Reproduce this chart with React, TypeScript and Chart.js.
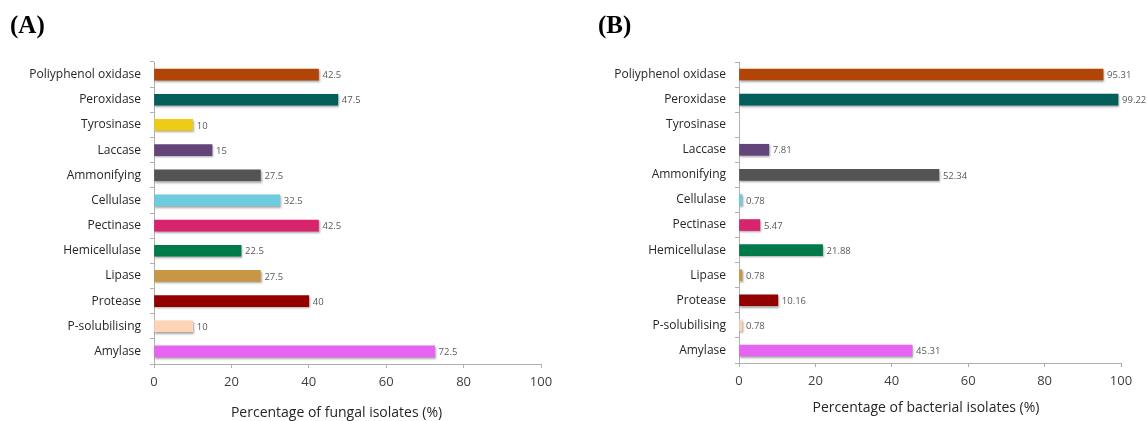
import React, { useEffect, useRef } from "react";
import { Chart, registerables } from "chart.js";

Chart.register(...registerables);

const categories = [
  "Poliyphenol oxidase",
  "Peroxidase",
  "Tyrosinase",
  "Laccase",
  "Ammonifying",
  "Cellulase",
  "Pectinase",
  "Hemicellulase",
  "Lipase",
  "Protease",
  "P-solubilising",
  "Amylase",
];

const fungalValues: (number | null)[] = [42.5, 47.5, 10, 15, 27.5, 32.5, 42.5, 22.5, 27.5, 40, 10, 72.5];
const bacterialValues: (number | null)[] = [95.31, 99.22, null, 7.81, 52.34, 0.78, 5.47, 21.88, 0.78, 10.16, 0.78, 45.31];

const fungalLabels = ["42.5", "47.5", "10", "15", "27.5", "32.5", "42.5", "22.5", "27.5", "40", "10", "72.5"];
const bacterialLabels = ["95.31", "99.22", "", "7.81", "52.34", "0.78", "5.47", "21.88", "0.78", "10.16", "0.78", "45.31"];

const barColors = [
  "#B04507",
  "#035F5A",
  "#EDCB16",
  "#63457A",
  "#545454",
  "#6FCBDE",
  "#D8246C",
  "#007A4B",
  "#C99646",
  "#930000",
  "#FFD3B6",
  "#E764F3",
];

const xTicks = [0, 20, 40, 60, 80, 100];

const FONT = "'Open Sans', 'Noto Sans', sans-serif";

const valueLabelPlugin = {
  id: "valueLabels",
  afterDatasetsDraw(chart: any) {
    const labels: string[] = chart.options.plugins.valueLabels.labels;
    const ctx = chart.ctx;
    const meta = chart.getDatasetMeta(0);
    ctx.save();
    ctx.font = `9.5px ${FONT}`;
    ctx.fillStyle = "#595959";
    ctx.textAlign = "left";
    ctx.textBaseline = "middle";
    meta.data.forEach((bar: any, i: number) => {
      const t = labels[i];
      if (!t) return;
      ctx.fillText(t, bar.x + 4, bar.y + 1);
    });
    ctx.restore();
  },
};

const axisTitlePlugin = {
  id: "axisTitle",
  afterDraw(chart: any) {
    const o = chart.options.plugins.axisTitle;
    const ctx = chart.ctx;
    const a = chart.chartArea;
    ctx.save();
    ctx.font = `14px ${FONT}`;
    ctx.fillStyle = "#262626";
    ctx.textAlign = "center";
    ctx.textBaseline = "middle";
    ctx.fillText(o.text, (a.left + a.right) / 2 + o.shift, o.y);
    ctx.restore();
  },
};

const shadowPlugin = {
  id: "barShadow",
  beforeDatasetsDraw(chart: any) {
    const ctx = chart.ctx;
    ctx.save();
    ctx.shadowColor = "rgba(0,0,0,0.35)";
    ctx.shadowBlur = 2;
    ctx.shadowOffsetX = 1;
    ctx.shadowOffsetY = 1.5;
  },
  afterDatasetsDraw(chart: any) {
    chart.ctx.restore();
  },
};

function CanvasBox(props: {
  width: number;
  values: (number | null)[];
  labels: string[];
  title: string;
  titleY: number;
  titleShift: number;
  yWidth: number;
  padRight: number;
  xHeight: number;
  padTop: number;
}) {
  const ref = useRef<HTMLCanvasElement>(null);
  useEffect(() => {
    if (!ref.current) return;
    const chart = new Chart(ref.current, {
      type: "bar",
      data: {
        labels: categories,
        datasets: [
          {
            data: props.values as any,
            backgroundColor: barColors,
            borderWidth: 0,
            barThickness: 11,
          },
        ],
      },
      options: {
        indexAxis: "y",
        animation: false,
        responsive: false,
        maintainAspectRatio: false,
        layout: { padding: { top: props.padTop, right: props.padRight, left: 0, bottom: 0 } },
        plugins: {
          legend: { display: false },
          tooltip: { enabled: false },
          valueLabels: { labels: props.labels },
          axisTitle: { text: props.title, y: props.titleY, shift: props.titleShift },
        } as any,
        scales: {
          x: {
            min: 0,
            max: 100,
            afterBuildTicks: (scale: any) => {
              scale.ticks = xTicks.map((v) => ({ value: v }));
            },
            afterFit: (scale: any) => {
              scale.height = props.xHeight;
            },
            grid: {
              display: true,
              drawOnChartArea: false,
              drawTicks: true,
              tickLength: 4,
              tickColor: "#B0B0B0",
              color: "#B0B0B0",
            },
            border: { display: true, color: "#B0B0B0", width: 1 },
            ticks: {
              padding: 6,
              color: "#404040",
              font: { family: FONT, size: 13 },
            },
          },
          y: {
            afterFit: (scale: any) => {
              scale.width = props.yWidth;
            },
            grid: {
              display: true,
              offset: true,
              drawOnChartArea: false,
              drawTicks: true,
              tickLength: 4,
              tickColor: "#B0B0B0",
              color: "#B0B0B0",
            },
            border: { display: true, color: "#B0B0B0", width: 1 },
            ticks: {
              padding: 9,
              color: "#262626",
              font: { family: FONT, size: 12 },
            },
          },
        },
      },
      plugins: [shadowPlugin, valueLabelPlugin, axisTitlePlugin],
    });
    return () => chart.destroy();
  }, []);
  return <canvas ref={ref} width={props.width} height={421} style={{ display: "block" }} />;
}

export default function App() {
  const labelStyle: React.CSSProperties = {
    position: "absolute",
    top: 11,
    font: "bold 25px 'Liberation Serif', 'Times New Roman', serif",
    color: "#000",
  };
  return (
    <div
      style={{
        position: "absolute",
        left: 0,
        top: 0,
        width: 1147,
        height: 421,
        background: "#ffffff",
        overflow: "hidden",
      }}
    >
      <div style={{ position: "absolute", left: 0, top: 0, width: 575, height: 421 }}>
        <CanvasBox
          width={575}
          values={fungalValues}
          labels={fungalLabels}
          title="Percentage of fungal isolates (%)"
          titleY={413}
          titleShift={-11}
          yWidth={154}
          padRight={575 - 541}
          xHeight={421 - 364}
          padTop={62}
        />
      </div>
      <div style={{ position: "absolute", left: 575, top: 0, width: 572, height: 421 }}>
        <CanvasBox
          width={572}
          values={bacterialValues}
          labels={bacterialLabels}
          title="Percentage of bacterial isolates (%)"
          titleY={408}
          titleShift={-4}
          yWidth={739 - 575}
          padRight={1147 - 1121}
          xHeight={421 - 363}
          padTop={62}
        />
      </div>
      <div style={{ ...labelStyle, left: 10 }}>(A)</div>
      <div style={{ ...labelStyle, left: 598 }}>(B)</div>
    </div>
  );
}
